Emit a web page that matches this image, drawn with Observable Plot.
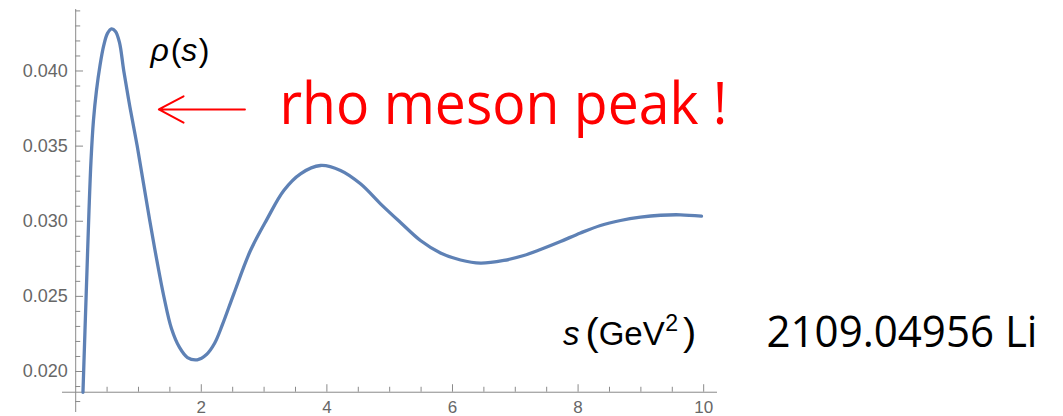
<!DOCTYPE html>
<html>
<head>
<meta charset="utf-8">
<script src="https://cdn.jsdelivr.net/npm/d3@7"></script>
<script src="https://cdn.jsdelivr.net/npm/@observablehq/plot@0.6"></script>
<style>
  html, body { margin: 0; padding: 0; background: white; }
</style>
</head>
<body>
<div id="chart"></div>
<script>
// s in GeV^2
const sValues = [0.116,0.148,0.180,0.212,0.244,0.283,0.331,0.387,0.447,0.506,0.570,0.634,0.697,0.766,0.865,0.979,1.080,1.180,1.287,1.403,1.525,1.653,1.780,1.935,2.083,2.210,2.338,2.518,2.783,3.049,3.314,3.580,3.898,4.217,4.535,4.854,5.172,5.490,5.809,6.127,6.446,6.817,7.135,7.401,7.720,8.038,8.357,8.675,8.994,9.312,9.631,9.965];
// rho(s)
const rhoValues = [0.01862,0.02273,0.02672,0.03072,0.03404,0.03671,0.03870,0.04037,0.04170,0.04250,0.04280,0.04263,0.04190,0.04000,0.03757,0.03502,0.03251,0.03003,0.02752,0.02501,0.02286,0.02160,0.02093,0.02078,0.02113,0.02186,0.02313,0.02517,0.02805,0.03016,0.03205,0.03316,0.03371,0.03338,0.03249,0.03116,0.02992,0.02872,0.02789,0.02742,0.02721,0.02739,0.02772,0.02812,0.02865,0.02922,0.02972,0.03005,0.03027,0.03040,0.03043,0.03034];

const yMajorTicks = [0.020, 0.025, 0.030, 0.035, 0.040];
const yMajorLabels = ["0.020", "0.025", "0.030", "0.035", "0.040"];
const yMinorTicks = [0.018,0.019,0.021,0.022,0.023,0.024,0.026,0.027,0.028,0.029,0.031,0.032,0.033,0.034,0.036,0.037,0.038,0.039,0.041,0.042,0.043,0.044];
const xMajorTicks = [2, 4, 6, 8, 10];
const xMajorLabels = ["2", "4", "6", "8", "10"];
const xMinorTicks = [0.5,1,1.5,2.5,3,3.5,4.5,5,5.5,6.5,7,7.5,8.5,9,9.5];

const data = sValues.map((s, i) => ({s, rho: rhoValues[i]}));
const yAxisAt = 0.01862;   // value where the horizontal axis crosses
const yLo = 0.017271, yHi = 0.044093;
const xLo = -0.21, xHi = 10.22;

const axisColor = "#8a8a8a";
const labelColor = "#676767";

const chart = Plot.plot({
  width: 1063,
  height: 416,
  marginLeft: 62,
  marginRight: 346,
  marginTop: 9,
  marginBottom: 4,
  style: {background: "white", fontFamily: "Liberation Sans, Arial, sans-serif", overflow: "visible"},
  x: {domain: [xLo, xHi], axis: null},
  y: {domain: [yLo, yHi], axis: null},
  marks: [
    // axes lines
    Plot.ruleX([0], {y1: yLo, y2: yHi, stroke: axisColor, strokeWidth: 1}),
    Plot.ruleY([yAxisAt], {x1: xLo, x2: xHi, stroke: axisColor, strokeWidth: 1}),
    // y ticks
    Plot.ruleY(yMajorTicks, {x1: 0, x2: 0.125, stroke: axisColor}),
    Plot.ruleY(yMinorTicks, {x1: 0, x2: 0.08, stroke: axisColor}),
    // x ticks
    Plot.ruleX(xMajorTicks, {y1: yAxisAt, y2: yAxisAt + 0.0005, stroke: axisColor}),
    Plot.ruleX(xMinorTicks, {y1: yAxisAt, y2: yAxisAt + 0.00033, stroke: axisColor}),
    // tick labels
    Plot.text(yMajorTicks, {x: 0, y: d => d, text: (d, i) => yMajorLabels[i], textAnchor: "end", dx: -8, fill: labelColor, fontSize: 18}),
    Plot.text(xMajorTicks, {x: d => d, y: yAxisAt, text: (d, i) => xMajorLabels[i], lineAnchor: "top", dy: 9, fill: labelColor, fontSize: 17}),
    // curve
    Plot.line(data, {x: "s", y: "rho", stroke: "#5E81B5", strokeWidth: 3.3, curve: "catmull-rom", clip: true}),
    // annotations
    Plot.text(["ρ(s)"], {x: 1.191, y: 0.04136, text: d => d, textAnchor: "start", fontSize: 32, fill: "black"}),
    Plot.arrow([0], {x1: 2.695, y1: 0.03744, x2: 1.324, y2: 0.03744, stroke: "red", strokeWidth: 2, headLength: 21, headAngle: 56}),
    Plot.text(["rho meson peak !"], {x: 3.245, y: 0.03770, text: d => d, textAnchor: "start", fontSize: 58, fill: "red", fontFamily: "Open Sans"}),
    Plot.text(["s(GeV2)"], {x: 7.76, y: 0.02245, text: d => d, textAnchor: "start", fontSize: 33, fill: "black"}),
    Plot.text(["2109.04956 Li"], {x: 11.0, y: 0.02260, text: d => d, textAnchor: "start", fontSize: 44, fill: "black", fontFamily: "Open Sans"})
  ]
});

// rich text styling for annotations
const svg = d3.select(chart);
svg.selectAll("text").each(function() {
  const t = d3.select(this);
  const content = this.textContent;
  if (content === "ρ(s)") {
    t.text("");
    t.append("tspan").attr("font-style", "italic").text("ρ");
    t.append("tspan").attr("dx", "0.06em").text("(");
    t.append("tspan").attr("font-style", "italic").text("s");
    t.append("tspan").attr("dx", "0.04em").text(")");
  } else if (content === "s(GeV2)") {
    t.text("");
    t.append("tspan").attr("font-style", "italic").text("s");
    t.append("tspan").attr("dx", "0.15em").attr("font-size", "1.2em").text("(");
    t.append("tspan").text("GeV");
    // superscript: raised by 0.42 of the parent em
    t.append("tspan").attr("font-size", "0.7em").attr("dy", "-0.6em").attr("dx", "0.03em").text("2");
    // back down by the same 0.42 parent em (0.35 * 1.2)
    t.append("tspan").attr("dy", "0.35em").attr("dx", "0.12em").attr("font-size", "1.2em").text(")");
  } else if (content === "rho meson peak !") {
    t.attr("textLength", 448).attr("lengthAdjust", "spacingAndGlyphs");
  } else if (content === "2109.04956 Li") {
    t.attr("textLength", 271).attr("lengthAdjust", "spacingAndGlyphs");
  }
});

document.getElementById("chart").appendChild(chart);
</script>
</body>
</html>
